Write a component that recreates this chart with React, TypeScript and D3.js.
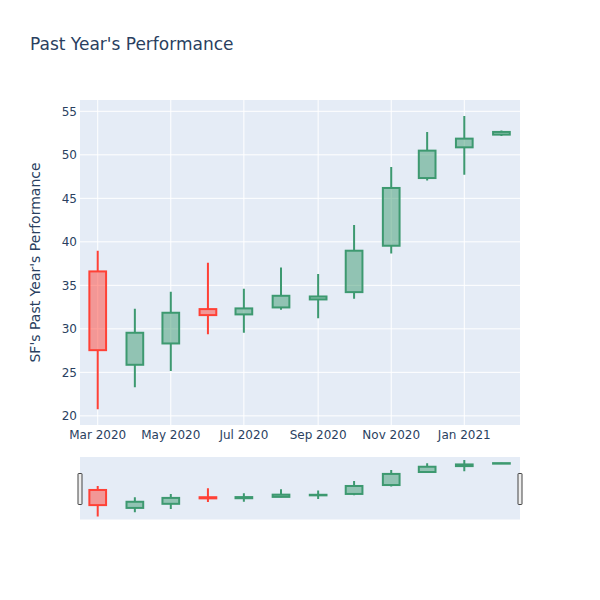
import { useRef, useEffect } from "react";
import * as d3 from "d3";

const months = [
  "2020-03-01", "2020-04-01", "2020-05-01", "2020-06-01", "2020-07-01", "2020-08-01",
  "2020-09-01", "2020-10-01", "2020-11-01", "2020-12-01", "2021-01-01", "2021-02-01",
];
const openVals = [36.6, 25.87, 28.32, 32.27, 31.66, 32.46, 33.38, 34.22, 39.55, 47.33, 50.86, 52.32];
const highVals = [38.98, 32.3, 34.26, 37.6, 34.6, 37.06, 36.3, 41.93, 48.6, 52.63, 54.47, 52.8];
const lowVals = [20.77, 23.3, 25.17, 29.39, 29.55, 32.19, 31.23, 33.46, 38.67, 47.06, 47.72, 52.17];
const closeVals = [27.55, 29.55, 31.85, 31.58, 32.35, 33.8, 33.72, 38.98, 46.19, 50.48, 51.86, 52.63];

const xTickDates = ["2020-03-01", "2020-05-01", "2020-07-01", "2020-09-01", "2020-11-01", "2021-01-01"];
const yTicks = [20, 25, 30, 35, 40, 45, 50, 55];

const INC = "#3D9970";
const DEC = "#FF4136";
const TEXT = "#2a3f5f";
const BG = "#E5ECF6";
const FONT = "'DejaVu Sans', Verdana, sans-serif";

const App = () => {
  const svgRef = useRef<SVGSVGElement>(null);

  useEffect(() => {
    const svg = d3.select(svgRef.current);
    svg.selectAll("*").remove();

    const data = months.map((m, i) => ({
      date: new Date(m + "T00:00:00Z"),
      open: openVals[i],
      high: highVals[i],
      low: lowVals[i],
      close: closeVals[i],
    }));

    const plot = { left: 80, right: 520, top: 100, bottom: 425 };
    const slider = { top: 457, bottom: 519.5 };

    const x = d3
      .scaleUtc()
      .domain([new Date(Date.UTC(2020, 1, 15, 5)), new Date(Date.UTC(2021, 1, 16, 12))])
      .range([plot.left, plot.right]);

    const yDomain = [18.95, 56.3];
    const y = d3.scaleLinear().domain(yDomain).range([plot.bottom, plot.top]);
    const ys = d3.scaleLinear().domain(yDomain).range([slider.bottom, slider.top]);

    // smallest gap between candles sets the box width
    let minGap = Infinity;
    for (let i = 1; i < data.length; i++) {
      minGap = Math.min(minGap, x(data[i].date) - x(data[i - 1].date));
    }
    const boxW = minGap * 0.465;

    // title
    svg
      .append("text")
      .attr("x", 30)
      .attr("y", 50)
      .attr("font-size", 17)
      .attr("fill", TEXT)
      .text("Past Year's Performance");

    // main plot background
    svg
      .append("rect")
      .attr("x", plot.left)
      .attr("y", plot.top)
      .attr("width", plot.right - plot.left)
      .attr("height", plot.bottom - plot.top)
      .attr("fill", BG);

    // grid
    svg
      .append("g")
      .selectAll("line")
      .data(yTicks)
      .enter()
      .append("line")
      .attr("x1", plot.left)
      .attr("x2", plot.right)
      .attr("y1", (d) => y(d))
      .attr("y2", (d) => y(d))
      .attr("stroke", "#fff")
      .attr("stroke-width", 1);

    const xTicks = xTickDates.map((d) => new Date(d + "T00:00:00Z"));
    svg
      .append("g")
      .selectAll("line")
      .data(xTicks)
      .enter()
      .append("line")
      .attr("x1", (d) => x(d))
      .attr("x2", (d) => x(d))
      .attr("y1", plot.top)
      .attr("y2", plot.bottom)
      .attr("stroke", "#fff")
      .attr("stroke-width", 1);

    // tick labels
    svg
      .append("g")
      .selectAll("text")
      .data(yTicks)
      .enter()
      .append("text")
      .attr("x", 77)
      .attr("y", (d) => y(d))
      .attr("dy", "0.35em")
      .attr("text-anchor", "end")
      .attr("font-size", 12)
      .attr("fill", TEXT)
      .text((d) => d);

    const fmt = d3.utcFormat("%b %Y");
    svg
      .append("g")
      .selectAll("text")
      .data(xTicks)
      .enter()
      .append("text")
      .attr("x", (d) => x(d))
      .attr("y", 439)
      .attr("text-anchor", "middle")
      .attr("font-size", 12)
      .attr("fill", TEXT)
      .text((d) => fmt(d));

    // y axis title
    svg
      .append("text")
      .attr("transform", `translate(40,${(plot.top + plot.bottom) / 2}) rotate(-90)`)
      .attr("text-anchor", "middle")
      .attr("font-size", 14)
      .attr("fill", TEXT)
      .text("SF's Past Year's Performance");

    const drawCandles = (g, yScale) => {
      const c = g
        .selectAll("g.candle")
        .data(data)
        .enter()
        .append("g")
        .attr("class", "candle");

      const col = (d) => (d.close >= d.open ? INC : DEC);

      c.append("path")
        .attr("d", (d) => {
          const cx = x(d.date);
          const top = yScale(Math.max(d.open, d.close));
          const bot = yScale(Math.min(d.open, d.close));
          return `M${cx},${yScale(d.high)}V${top}M${cx},${bot}V${yScale(d.low)}`;
        })
        .attr("stroke", col)
        .attr("stroke-width", 2)
        .attr("fill", "none");

      c.append("rect")
        .attr("x", (d) => x(d.date) - boxW / 2)
        .attr("y", (d) => yScale(Math.max(d.open, d.close)))
        .attr("width", boxW)
        .attr("height", (d) => Math.max(0.5, Math.abs(yScale(d.open) - yScale(d.close))))
        .attr("stroke", col)
        .attr("stroke-width", 2)
        .attr("fill", col)
        .attr("fill-opacity", 0.5);
    };

    const mainG = svg.append("g");
    drawCandles(mainG, y);

    // range slider
    svg
      .append("rect")
      .attr("x", plot.left)
      .attr("y", slider.top)
      .attr("width", plot.right - plot.left)
      .attr("height", slider.bottom - slider.top)
      .attr("fill", BG);

    const sliderG = svg.append("g");
    drawCandles(sliderG, ys);

    [plot.left - 2, plot.right - 2].forEach((hx) => {
      svg
        .append("rect")
        .attr("x", hx)
        .attr("y", 473.5)
        .attr("width", 4)
        .attr("height", 31)
        .attr("rx", 0.5)
        .attr("fill", "#eee")
        .attr("stroke", "#444")
        .attr("stroke-width", 1);
    });
  }, []);

  return (
    <svg
      ref={svgRef}
      width={600}
      height={600}
      style={{ position: "absolute", left: 0, top: 0, fontFamily: FONT, background: "#fff" }}
    ></svg>
  );
};

export default App;
